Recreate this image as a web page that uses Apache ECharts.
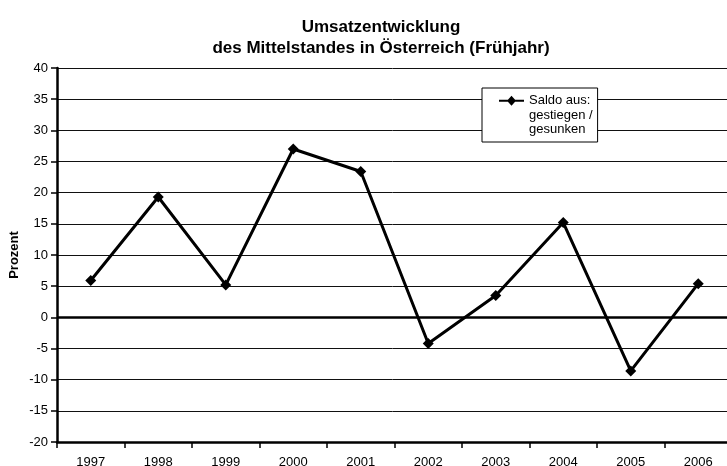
<!DOCTYPE html>
<html>
<head>
<meta charset="utf-8">
<script src="https://cdn.jsdelivr.net/npm/echarts@6/dist/echarts.min.js"></script>
<style>html,body{margin:0;padding:0;background:#fff;}#c{width:727px;height:466px;}</style>
</head>
<body>
<div id="c"></div>
<script>
var categories = ['1997','1998','1999','2000','2001','2002','2003','2004','2005','2006'];
var saldo = [5.9, 19.3, 5.2, 27.0, 23.4, -4.2, 3.5, 15.2, -8.6, 5.4];
var seriesName = 'Saldo aus:\ngestiegen /\ngesunken';
var titleText = 'Umsatzentwicklung\ndes Mittelstandes in Österreich (Frühjahr)';
var yName = 'Prozent';

var chart = echarts.init(document.getElementById('c'), null, {renderer: 'canvas'});
var font = 'Liberation Sans, Arial, sans-serif';
// legend icon: line + diamond on the first text line (extra moveTo points keep the box size)
var legendIcon = 'path://M0,6.15 L25,6.15 L25,8.15 L0,8.15 Z M12.5,2.15 L17,7.15 L12.5,12.15 L8,7.15 Z M0,0 M25,43';
chart.setOption({
  animation: false,
  backgroundColor: '#fff',
  textStyle: {fontFamily: font},
  title: {
    text: titleText,
    left: 381, top: 16, padding: 0,
    textAlign: 'center',
    textStyle: {fontFamily: font, fontSize: 17, fontWeight: 'bold', color: '#000', lineHeight: 21.7}
  },
  legend: {
    left: 482, top: 88,
    padding: [5.5, 5, 5.5, 17],
    itemWidth: 25, itemHeight: 43,
    icon: legendIcon,
    itemStyle: {borderWidth: 0, color: '#000'},
    borderColor: '#000', borderWidth: 1, borderRadius: 0,
    backgroundColor: '#fff',
    textStyle: {fontFamily: font, fontSize: 13, color: '#000', lineHeight: 14.3},
    data: [seriesName]
  },
  grid: {left: 57, top: 68, bottom: 24, right: -5, containLabel: false, outerBoundsMode: 'none'},
  xAxis: {
    type: 'category',
    data: categories,
    boundaryGap: true,
    axisLine: {onZero: false, lineStyle: {color: '#000', width: 2.5}},
    axisTick: {show: true, length: 6, lineStyle: {color: '#000', width: 1.5}},
    axisLabel: {color: '#000', fontSize: 13, margin: 14, fontFamily: font, interval: 0},
    splitLine: {show: false}
  },
  yAxis: {
    type: 'value',
    min: -20, max: 40, interval: 5,
    name: yName,
    nameLocation: 'middle',
    nameGap: 36,
    nameMoveOverlap: false,
    nameTextStyle: {fontFamily: font, fontSize: 13, fontWeight: 'bold', color: '#000'},
    axisLine: {show: true, lineStyle: {color: '#000', width: 2.5}},
    axisTick: {show: true, length: 6, lineStyle: {color: '#000', width: 1.5}},
    axisLabel: {color: '#000', fontSize: 13, margin: 9, fontFamily: font},
    splitLine: {show: true, lineStyle: {color: '#111', width: 1}}
  },
  series: [{
    name: seriesName,
    type: 'line',
    data: saldo,
    symbol: 'diamond',
    symbolSize: 11,
    itemStyle: {color: '#000'},
    lineStyle: {color: '#000', width: 3},
    markLine: {
      silent: true,
      symbol: 'none',
      label: {show: false},
      lineStyle: {color: '#000', width: 2.5, type: 'solid'},
      data: [{yAxis: 0}]
    }
  }]
});
</script>
</body>
</html>
